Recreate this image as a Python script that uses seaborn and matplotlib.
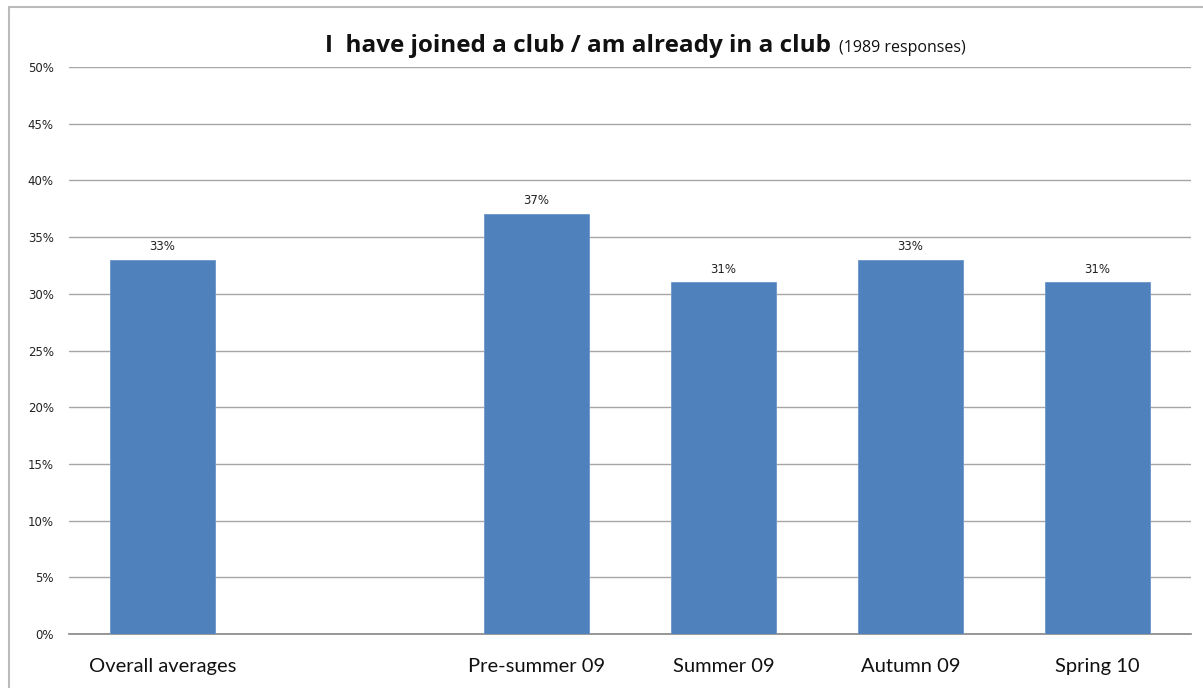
import matplotlib
matplotlib.use("Agg")
import matplotlib.pyplot as plt
from matplotlib.patches import Rectangle
from matplotlib.ticker import PercentFormatter
import seaborn as sns
import pandas as pd

# Survey results: share of respondents who joined / are in a club
categories = ["Overall averages", "Pre-summer 09", "Summer 09", "Autumn 09", "Spring 10"]
values = [33, 37, 31, 33, 31]
# axis order, with an empty slot separating the overall figure from the periods
order = ["Overall averages", " ", "Pre-summer 09", "Summer 09", "Autumn 09", "Spring 10"]
y_ticks = [0, 5, 10, 15, 20, 25, 30, 35, 40, 45, 50]

title_main = "I  have joined a club / am already in a club"
title_note = "(1989 responses)"

sns.set_theme(style="white")
plt.rcParams["font.family"] = ["DejaVu Sans"]

df = pd.DataFrame({"period": categories, "pct": values})

W, H = 1203, 688
fig = plt.figure(figsize=(W / 100, H / 100), dpi=100)
ax = fig.add_axes([69 / W, 1 - 634 / H, (1191 - 69) / W, (634 - 67) / H])

sns.barplot(data=df, x="period", y="pct", order=order, color="#4F81BD",
            saturation=1, width=0.56, ax=ax, zorder=3,
            edgecolor="#6A95C9", linewidth=0.6)

ax.set_ylim(0, 50)
ax.set_yticks(y_ticks)
ax.yaxis.set_major_formatter(PercentFormatter(decimals=0))
ax.grid(axis="y", color="#A6A6A6", linewidth=1.0, zorder=0)
ax.set_axisbelow(True)
for s in ["top", "right", "left"]:
    ax.spines[s].set_visible(False)
ax.spines["bottom"].set_color("#868686")
ax.spines["bottom"].set_linewidth(1.2)
ax.tick_params(axis="y", length=0, pad=11, labelsize=8.5, labelcolor="#222222")
ax.tick_params(axis="x", length=0, pad=17, labelsize=14.5, labelcolor="#111111")
for lbl in ax.get_xticklabels():
    lbl.set_fontfamily("Lato")
ax.set_xlabel("")
ax.set_ylabel("")

# value labels above bars
for cont in ax.containers:
    ax.bar_label(cont, labels=[f"{v:.0f}%" for v in cont.datavalues],
                 padding=5, fontsize=8.5, color="#222222")

# chart title: bold main text followed by smaller note
t1 = fig.text(0, 1 - 46 / H, title_main, fontsize=17.5, fontweight="bold",
              family="Open Sans", va="center", ha="left", color="#111111")
t2 = fig.text(0, 1 - 48 / H, title_note, fontsize=11.5, family="Open Sans",
              va="center", ha="left", color="#111111")
fig.canvas.draw()
r = fig.canvas.get_renderer()
w1 = t1.get_window_extent(r).width
w2 = t2.get_window_extent(r).width
gap = 8
x0 = 645 - (w1 + gap + w2) / 2
t1.set_x(x0 / W)
t2.set_x((x0 + w1 + gap) / W)

# outer chart frame
fig.add_artist(Rectangle((8.5 / W, -0.1), 1.2, 1.1 - 6.5 / H,
                         transform=fig.transFigure, fill=False,
                         edgecolor="#BBBBBB", linewidth=1.5))

fig.savefig("out.png", dpi=100)
